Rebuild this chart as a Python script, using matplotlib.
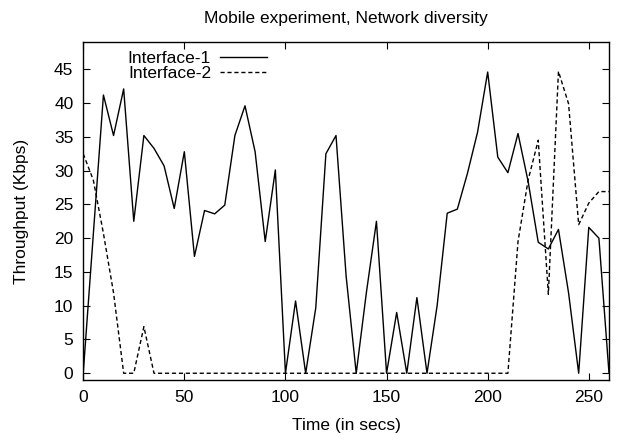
import matplotlib
matplotlib.use("Agg")
import matplotlib.pyplot as plt

# Time axis (seconds), sampled every 5 s
time_s = list(range(0, 265, 5))

interface_1 = [0, 20.6, 41.2, 35.2, 42.1, 22.5, 35.2, 33.3, 30.7, 24.4,
               32.8, 17.3, 24.1, 23.6, 24.9, 35.2, 39.6, 32.8, 19.5, 30.1,
               0, 10.7, 0, 9.7, 32.5, 35.2, 14.4, 0, 11.9, 22.5,
               0, 9.0, 0, 11.2, 0, 10.0, 23.7, 24.3, 29.6, 35.7,
               44.6, 32.0, 29.7, 35.5, 28.4, 19.4, 18.4, 21.3, 11.9, 0,
               21.6, 20.0, 0]

interface_2 = [32.5, 28.6, 20.7, 11.9, 0, 0, 6.9, 0, 0, 0,
               0, 0, 0, 0, 0, 0, 0, 0, 0, 0,
               0, 0, 0, 0, 0, 0, 0, 0, 0, 0,
               0, 0, 0, 0, 0, 0, 0, 0, 0, 0,
               0, 0, 0, 19.5, 28.6, 34.5, 11.7, 44.7, 39.9, 22.0,
               25.2, 26.9, 26.9]

plt.rcParams["font.family"] = ["Liberation Sans", "DejaVu Sans"]
FS = 12.5

fig = plt.figure(figsize=(6.21, 4.34), dpi=100)
ax = fig.add_axes([0.134, 0.1244, 0.8467, 0.7781])

ax.plot(time_s, interface_1, color="black", linewidth=1.0, label="Interface-1")
ax.plot(time_s, interface_2, color="black", linewidth=1.0, linestyle=(0, (3, 2)),
        label="Interface-2")

ax.set_xlim(0, 260)
ax.set_ylim(-1, 49)
ax.set_xticks(range(0, 260, 50))
ax.set_yticks(range(0, 50, 5))
ax.tick_params(direction="in", top=True, right=True, length=5, labelsize=FS,
               pad=7)
ax.tick_params(axis="x", pad=7.5)
for s in ax.spines.values():
    s.set_linewidth(1.0)

ax.set_xlabel("Time (in secs)", fontsize=FS, labelpad=9)
ax.set_ylabel("Throughput (Kbps)", fontsize=FS, labelpad=18)
ax.set_title("Mobile experiment, Network diversity", fontsize=FS, pad=14)

ax.legend(loc="upper left", bbox_to_anchor=(0.055, 1.02), frameon=False,
          markerfirst=False, fontsize=FS, handlelength=2.7,
          labelspacing=0.0, handletextpad=0.52)

fig.savefig("out.png", dpi=100)
